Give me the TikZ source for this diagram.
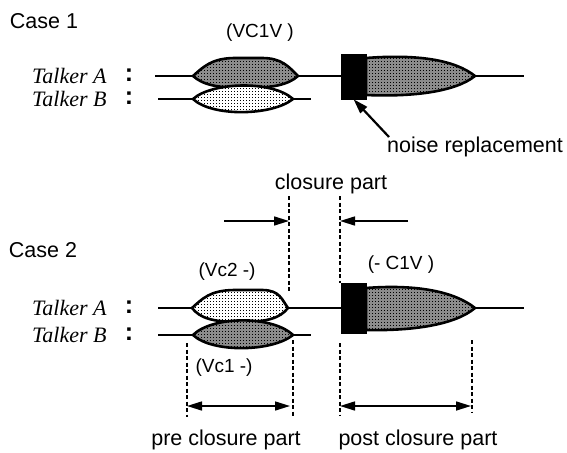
\documentclass[tikz,border=0pt]{standalone}
\usepackage{fontspec}
\setmainfont{Liberation Sans}
\newfontfamily\talkerfont{Liberation Serif}
\usetikzlibrary{arrows.meta,patterns.meta}
% screen-like texture for the syllable shapes
\tikzdeclarepattern{
  name=screendots, type=uncolored,
  bounding box={(0pt,0pt) and (3pt,3pt)}, tile size={(3pt,3pt)},
  code={\fill (0pt,0pt) rectangle (1.2pt,1.2pt);}
}
\tikzset{
  lbl/.style={font=\fontsize{21.5}{24}\selectfont, inner sep=0pt},
  plbl/.style={font=\fontsize{19}{22}\selectfont, inner sep=0pt},
  talker/.style={font=\talkerfont\itshape\fontsize{22}{24}\selectfont, inner sep=0pt, anchor=west},
  colon/.style={font=\bfseries\fontsize{25}{26}\selectfont, inner sep=0pt},
  track/.style={line width=1.8pt},
  darkseg/.style={draw=black, line width=2.6pt, line join=round,
    preaction={fill=black!45}, pattern=screendots, pattern color=black},
  lightseg/.style={draw=black, line width=2.6pt, line join=round,
    preaction={fill=white}, pattern=screendots, pattern color=black},
  noisebox/.style={fill=black, draw=black},
  guide/.style={dash pattern=on 4pt off 2.5pt, line width=1.8pt},
  measure/.style={line width=1.6pt, -{Triangle[length=15pt,width=9pt]}},
  span/.style={line width=1.6pt, {Triangle[length=15pt,width=9pt]}-{Triangle[length=15pt,width=9pt]}},
}
\begin{document}
\begin{tikzpicture}[x=1pt,y=-1pt]
\useasboundingbox (0,0) rectangle (567,452);

% ---------------- Case 1 ----------------
\node[lbl] (case1) at (44,21) {Case 1};
\node[plbl] (vc1v) at (260,33) {(VC1V )};
\node[talker] (ta1) at (32,76) {Talker A};
\node[talker] (tb1) at (32,99) {Talker B};
\node[colon] (ca1) at (129,75) {:};
\node[colon] (cb1) at (129,98) {:};

% tracks
\coordinate (a1s) at (155,76); \coordinate (a1l) at (193,76);
\coordinate (a1r) at (298,76); \coordinate (box1l) at (341,76);
\coordinate (e1r) at (475,76); \coordinate (a1e) at (524,76);
\coordinate (b1s) at (158,99); \coordinate (b1l) at (193,99);
\coordinate (b1r) at (293,99); \coordinate (b1e) at (311,99);
\draw[track] (a1s) -- (a1l);
\draw[track] (a1r) -- (box1l);
\draw[track] (e1r) -- (a1e);
\draw[track] (b1s) -- (b1l);
\draw[track] (b1r) -- (b1e);

% talker A syllable (VC1V)
\draw[darkseg] (a1l) .. controls (203,67) and (212,58) .. (235,58)
  -- (262,58) .. controls (282,58) and (289,67) .. (a1r)
  .. controls (288,85) and (272,88) .. (245,88)
  .. controls (218,88) and (203,85) .. (a1l) -- cycle;
% talker B syllable (Vc2-)
\draw[lightseg] (b1l) .. controls (212,82) and (272,80) .. (b1r)
  .. controls (272,116) and (212,117) .. (b1l) -- cycle;

% replaced part and the rest of the syllable
\draw[darkseg] (366,58) .. controls (418,54) and (455,60) .. (e1r)
  .. controls (455,92) and (412,97) .. (366,95) -- cycle;
\node[noisebox, minimum width=25pt, minimum height=45pt, inner sep=0pt] (box1) at (353.5,76.5) {};

\node[lbl, anchor=west] (noise) at (387,147) {noise replacement};
\coordinate (nz) at (389,137);
\draw[line width=2.2pt, -{Triangle[length=15pt,width=9pt]}] (nz) -- (box1.south);

% ---------------- closure markers ----------------
\node[lbl] (closure) at (331,184) {closure part};
\coordinate (cl1t) at (289,196); \coordinate (cl1b) at (289,292);
\coordinate (cl2t) at (340,196); \coordinate (cl2b) at (340,283);
\draw[guide] (cl1t) -- (cl1b);
\draw[guide] (cl2t) -- (cl2b);
\coordinate (arrL) at (224,221); \coordinate (arrLt) at (289,221);
\coordinate (arrR) at (408,221); \coordinate (arrRt) at (340,221);
\draw[measure] (arrL) -- (arrLt);
\draw[measure] (arrR) -- (arrRt);

% ---------------- Case 2 ----------------
\node[lbl] (case2) at (43,250) {Case 2};
\node[plbl] (vc2) at (227,272) {(Vc2 -)};
\node[plbl] (c1v) at (401,265) {(- C1V )};
\node[talker] (ta2) at (32,308) {Talker A};
\node[talker] (tb2) at (32,335) {Talker B};
\node[colon] (ca2) at (129,307) {:};
\node[colon] (cb2) at (129,334) {:};

\coordinate (a2s) at (158,308); \coordinate (a2l) at (192,308);
\coordinate (a2r) at (288,308); \coordinate (box2l) at (341,308);
\coordinate (e2r) at (475,308); \coordinate (a2e) at (524,308);
\coordinate (b2s) at (158,335); \coordinate (b2l) at (193,335);
\coordinate (b2r) at (293,335); \coordinate (b2e) at (311,335);
\draw[track] (a2s) -- (a2l);
\draw[track] (a2r) -- (box2l);
\draw[track] (e2r) -- (a2e);
\draw[track] (b2s) -- (b2l);
\draw[track] (b2r) -- (b2e);

% talker A syllable (Vc2-)
\draw[lightseg] (a2l) .. controls (202,299) and (210,290) .. (235,290)
  -- (262,290) .. controls (280,290) and (282,300) .. (a2r)
  .. controls (280,318) and (268,322) .. (240,322)
  .. controls (212,322) and (200,318) .. (a2l) -- cycle;
% talker B syllable (Vc1-)
\draw[darkseg] (b2l) .. controls (212,316) and (272,315) .. (b2r)
  .. controls (272,352) and (212,353) .. (b2l) -- cycle;

\draw[darkseg] (366,288) .. controls (418,284) and (455,292) .. (e2r)
  .. controls (455,325) and (412,331) .. (366,330) -- cycle;
\node[noisebox, minimum width=25pt, minimum height=50pt, inner sep=0pt] (box2) at (353.5,308) {};

% pre / post closure spans
\coordinate (p1t) at (187,343); \coordinate (p1b) at (187,417);
\coordinate (p2t) at (293,340); \coordinate (p2b) at (293,417);
\coordinate (q1t) at (340,343); \coordinate (q1b) at (340,416);
\coordinate (q2t) at (472,340); \coordinate (q2b) at (472,413);
\draw[guide] (p1t) -- (p1b);
\draw[guide] (p2t) -- (p2b);
\draw[guide] (q1t) -- (q1b);
\draw[guide] (q2t) -- (q2b);
\coordinate (sp1) at (187,406); \coordinate (sp2) at (290,406);
\coordinate (sq1) at (340,406); \coordinate (sq2) at (471,406);
\draw[span] (sp1) -- (sp2);
\draw[span] (sq1) -- (sq2);

\node[plbl] (vc1) at (224,368) {(Vc1 -)};
\node[lbl] (pre) at (226,440) {pre closure part};
\node[lbl] (post) at (418,440) {post closure part};
\end{tikzpicture}
\end{document}
